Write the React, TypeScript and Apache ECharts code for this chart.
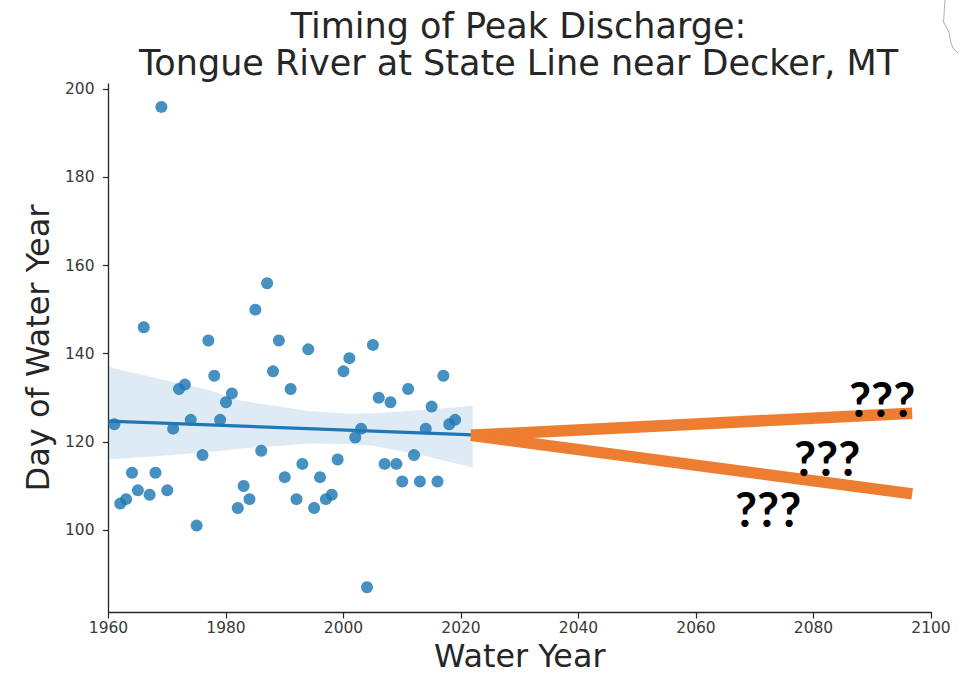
import React, { useEffect, useRef } from "react";
import * as echarts from "echarts";

const years = [1961,1962,1963,1964,1965,1966,1967,1968,1969,1970,1971,1972,1973,1974,1975,1976,1977,1978,1979,1980,1981,1982,1983,1984,1985,1986,1987,1988,1989,1990,1991,1992,1993,1994,1995,1996,1997,1998,1999,2000,2001,2002,2003,2004,2005,2006,2007,2008,2009,2010,2011,2012,2013,2014,2015,2016,2017,2018,2019];
const peakDay = [124,106,107,113,109,146,108,113,196,109,123,132,133,125,101,117,143,135,125,129,131,105,110,107,150,118,156,136,143,112,132,107,115,141,105,112,107,108,116,136,139,121,123,87,142,130,115,129,115,111,132,117,111,123,128,111,135,124,125];
const fitYears = [1960, 2022];
const fitValues = [124.7, 121.6];
const bandYears = [1960,1971,1977,1982,1987,1994,2001,2005,2010,2014,2022];
const bandUpper = [137,133.6,131.8,129.5,128.4,127,126.4,126.5,126.9,127.3,128.2];
const bandLower = [116,117,117.7,118.4,118.9,119.6,119.5,119.1,117.9,116.8,114.2];
const highScenarioYears = [2021.7, 2096.8];
const highScenarioValues = [121.5, 126.5];
const lowScenarioYears = [2021.7, 2096.8];
const lowScenarioValues = [121.5, 108.2];
const yTicks = [100,120,140,160,180,200];
const titleText = "Timing of Peak Discharge:\nTongue River at State Line near Decker, MT";

const ink = "#262626";
const tickInk = "#3a3a3a";

export default function App() {
  const ref = useRef<HTMLDivElement>(null);
  useEffect(() => {
    const chart = echarts.init(ref.current!, undefined, { renderer: "svg" });
    const question = (x: number, y: number) => ({
      type: "text", x, y, z: 100,
      style: { text: "???", fontFamily: "Lato", fontWeight: "bold", fontSize: 48, fill: "#000", textVerticalAlign: "top" },
    });
    chart.setOption({
      animation: false,
      backgroundColor: "#fff",
      title: {
        text: titleText, left: 513.5, top: 2, textAlign: "center",
        textStyle: { fontFamily: "DejaVu Sans", fontWeight: "normal", fontSize: 35, color: ink, lineHeight: 37 },
      },
      grid: { left: 108.5, right: 28, top: 84, bottom: 61, outerBoundsMode: "none" },
      xAxis: {
        type: "value", min: 1960, max: 2100, interval: 20,
        splitLine: { show: false },
        axisLine: { lineStyle: { color: ink, width: 1.3 } },
        axisTick: { length: 6.5, lineStyle: { color: ink, width: 1.2 } },
        axisLabel: { color: tickInk, fontFamily: "DejaVu Sans", fontSize: 15.5, margin: 8, formatter: (v: number) => String(v) },
        name: "Water Year", nameLocation: "middle", nameGap: 28, nameMoveOverlap: false,
        nameTextStyle: { fontFamily: "DejaVu Sans", fontSize: 31.8, color: ink, lineHeight: 30 },
      },
      yAxis: {
        type: "value", min: 81.4, max: 201.2,
        splitLine: { show: false },
        axisLine: { lineStyle: { color: ink, width: 1.3 } },
        axisTick: { length: 5.5, customValues: yTicks, lineStyle: { color: ink, width: 1.2 } },
        axisLabel: { color: tickInk, fontFamily: "DejaVu Sans", fontSize: 15.5, margin: 14, customValues: yTicks },
        name: "Day of Water Year", nameLocation: "middle", nameGap: 55, nameRotate: 90,
        nameTextStyle: { fontFamily: "DejaVu Sans", fontSize: 32, color: ink },
      },
      series: [
        {
          type: "custom", z: 1, silent: true,
          data: [0],
          renderItem: (_p: any, api: any) => {
            const top = bandYears.map((x, i) => api.coord([x, bandUpper[i]]));
            const bottom = bandYears.map((x, i) => api.coord([x, bandLower[i]])).reverse();
            return { type: "polygon", shape: { points: [...top, ...bottom] }, style: { fill: "#1f77b4", opacity: 0.15 } };
          },
        },
        {
          type: "scatter", z: 2, symbolSize: 12,
          data: years.map((y, i) => [y, peakDay[i]]),
          itemStyle: { color: "#1f77b4", opacity: 0.82 },
        },
        {
          type: "line", z: 3, showSymbol: false,
          data: fitYears.map((y, i) => [y, fitValues[i]]),
          lineStyle: { color: "#1f77b4", width: 3.2 },
        },
        {
          type: "line", z: 4, showSymbol: false,
          data: highScenarioYears.map((y, i) => [y, highScenarioValues[i]]),
          lineStyle: { color: "#ed7d31", width: 11.5, cap: "butt" },
        },
        {
          type: "line", z: 4, showSymbol: false,
          data: lowScenarioYears.map((y, i) => [y, lowScenarioValues[i]]),
          lineStyle: { color: "#ed7d31", width: 11.5, cap: "butt" },
        },
      ],
      graphic: [
        question(849, 374),
        question(794, 433),
        question(735, 484),
        {
          type: "polyline", z: 100,
          shape: { points: [[945,0],[943.5,22],[949,32],[951,43],[953,48],[958,53]] },
          style: { stroke: "#b0b0b0", lineWidth: 1, fill: "none" },
        },
      ],
    });
    return () => chart.dispose();
  }, []);
  return <div ref={ref} style={{ width: 959, height: 673, position: "absolute", left: 0, top: 0 }} />;
}
